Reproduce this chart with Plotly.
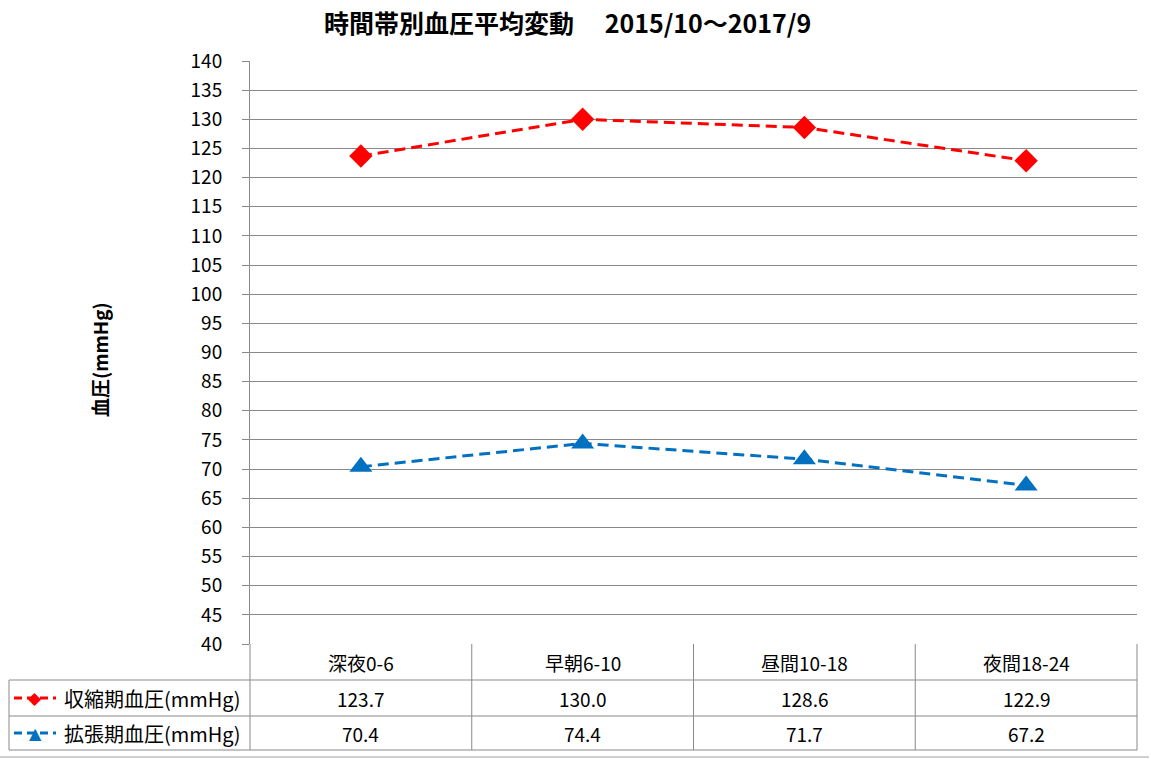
import plotly.graph_objects as go

categories = ["深夜0-6", "早朝6-10", "昼間10-18", "夜間18-24"]
systolic = [123.7, 130.0, 128.6, 122.9]
diastolic = [70.4, 74.4, 71.7, 67.2]
series_names = ["収縮期血圧(mmHg)", "拡張期血圧(mmHg)"]
title_text = "時間帯別血圧平均変動　 2015/10～2017/9"
y_title = "血圧(mmHg)"

W, H = 1151, 759
L, R, T, B = 250, 1137, 61, 644
FONT = "Noto Sans CJK JP"
RED = "#FF0000"
BLUE = "#0070C0"
GRID = "#898989"

def px(x):
    return (x - L) / (R - L)

def py(y):
    return (B - y) / (B - T)

xs = list(range(len(categories)))
n = len(categories)

fig = go.Figure()
fig.add_trace(go.Scatter(x=xs, y=systolic, mode="lines+markers", name=series_names[0],
                         line=dict(color=RED, width=3, dash="11px,6px"),
                         marker=dict(symbol="diamond", size=18, color=RED)))
fig.add_trace(go.Scatter(x=xs, y=diastolic, mode="lines+markers", name=series_names[1],
                         line=dict(color=BLUE, width=3, dash="11px,6px"),
                         marker=dict(symbol="triangle-up", size=20, color=BLUE)))

shapes = []
line_style = dict(color=GRID, width=1)
for yy in (680, 716, 750):
    shapes.append(dict(type="line", xref="paper", yref="paper", x0=px(9), x1=px(R), y0=py(yy), y1=py(yy), line=line_style))
for i in range(n + 1):
    xx = L + (R - L) * i / n
    shapes.append(dict(type="line", xref="paper", yref="paper", x0=px(xx), x1=px(xx), y0=py(B), y1=py(750), line=line_style))
shapes.append(dict(type="line", xref="paper", yref="paper", x0=px(9), x1=px(9), y0=py(680), y1=py(750), line=line_style))
shapes.append(dict(type="line", xref="paper", yref="paper", x0=px(0), x1=px(1149), y0=py(757), y1=py(757),
                   line=dict(color="#A0A0A0", width=1)))

annotations = []
for yy, col, sym, sz in [(698, RED, "◆", 17), (733, BLUE, "▲", 16)]:
    shapes.append(dict(type="line", xref="paper", yref="paper", x0=px(14), x1=px(56), y0=py(yy), y1=py(yy),
                       line=dict(color=col, width=3, dash="8px,5px")))
    annotations.append(dict(xref="paper", yref="paper", x=px(35), y=py(yy), text=sym, showarrow=False,
                            font=dict(family="DejaVu Sans", size=sz, color=col), xanchor="center", yanchor="middle"))
for yy, name in [(698, series_names[0]), (733, series_names[1])]:
    annotations.append(dict(xref="paper", yref="paper", x=px(62), y=py(yy), text=name, showarrow=False,
                            font=dict(family=FONT, size=20, color="#000"), xanchor="left", yanchor="middle"))
for i, c in enumerate(categories):
    annotations.append(dict(xref="x", yref="paper", x=i, y=py(662), text=c, showarrow=False,
                            font=dict(family=FONT, size=19, color="#000"), xanchor="center", yanchor="middle"))
    annotations.append(dict(xref="x", yref="paper", x=i, y=py(698), text=f"{systolic[i]:.1f}", showarrow=False,
                            font=dict(family=FONT, size=19, color="#000"), xanchor="center", yanchor="middle"))
    annotations.append(dict(xref="x", yref="paper", x=i, y=py(733), text=f"{diastolic[i]:.1f}", showarrow=False,
                            font=dict(family=FONT, size=19, color="#000"), xanchor="center", yanchor="middle"))
annotations.append(dict(xref="paper", yref="paper", x=px(100), y=py(360), text=f"<b>{y_title}</b>", showarrow=False,
                        textangle=-90, font=dict(family=FONT, size=19, color="#000"), xanchor="center", yanchor="middle"))
annotations.append(dict(xref="paper", yref="paper", x=px(567), y=py(22), text=f"<b>{title_text}</b>", showarrow=False,
                        font=dict(family=FONT, size=25, color="#000"), xanchor="center", yanchor="middle"))

fig.update_layout(
    width=W, height=H,
    margin=dict(l=L, r=W - R, t=T, b=H - B, pad=0),
    paper_bgcolor="white", plot_bgcolor="white",
    showlegend=False,
    shapes=shapes, annotations=annotations,
    xaxis=dict(range=[-0.5, n - 0.5], showticklabels=False, showgrid=False, zeroline=False,
               showline=False, fixedrange=True),
    yaxis=dict(range=[40, 140], dtick=5, tick0=40, showgrid=True, gridcolor=GRID, gridwidth=1,
               showline=True, linecolor=GRID, linewidth=1, ticks="outside", ticklen=7, tickcolor=GRID,
               tickfont=dict(family=FONT, size=19, color="#000"), zeroline=False, ticklabelstandoff=16),
)

fig.write_html("out.html", config={"displayModeBar": False},
               post_script="document.body.style.margin='0';document.body.style.overflow='hidden';")
